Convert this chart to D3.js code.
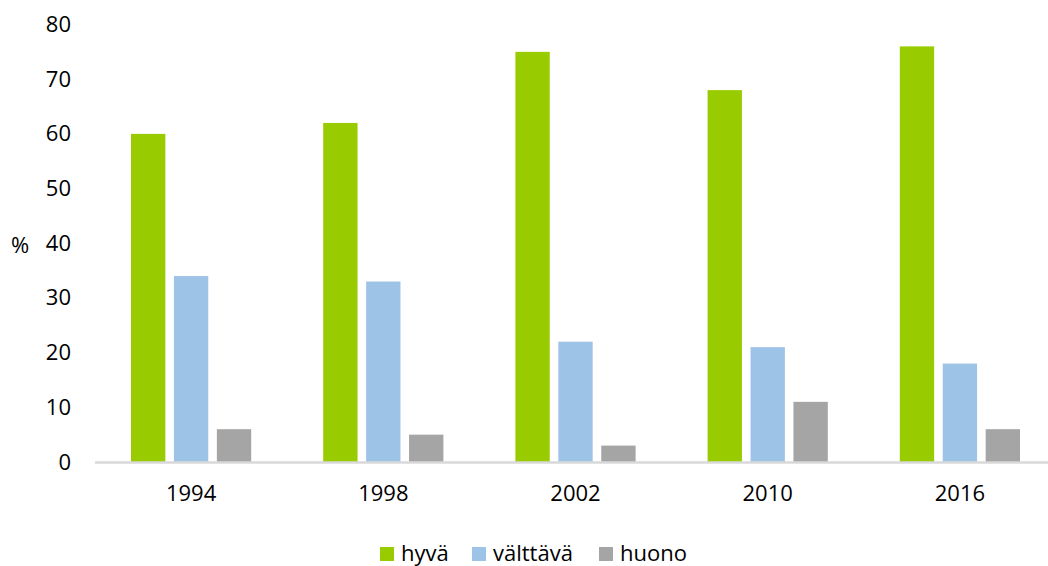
<!DOCTYPE html>
<html>
<head>
<meta charset="utf-8">
<script src="https://cdn.jsdelivr.net/npm/d3@7"></script>
<style>
  body { margin: 0; background: #fff; }
  svg { display: block; font-family: 'Open Sans', sans-serif; }
</style>
</head>
<body>
<div id="container"></div>
<script>
const years = ['1994', '1998', '2002', '2010', '2016'];
const seriesNames = ['hyvä', 'välttävä', 'huono'];
const hyva = [60, 62, 75, 68, 76];
const valttava = [34, 33, 22, 21, 18];
const huono = [6, 5, 3, 11, 6];
const yTicks = [0, 10, 20, 30, 40, 50, 60, 70, 80];
const colors = ['#99cc00', '#9dc3e6', '#a5a5a5'];

const width = 1048;
const height = 566;

const svg = d3.select('#container')
  .append('svg')
  .attr('width', width)
  .attr('height', height);

const xScale = d3.scaleBand()
  .domain(years)
  .range([95, 1056]);

const xInner = d3.scaleBand()
  .domain(seriesNames)
  .range([36, xScale.bandwidth() - 36])
  .paddingInner(0.2);

const yScale = d3.scaleLinear()
  .domain([0, 80])
  .range([462, 24.5]);

const series = [hyva, valttava, huono];

//bars
series.forEach((vals, i) => {
  svg.append('g')
    .selectAll('rect')
    .data(vals)
    .enter()
    .append('rect')
    .attr('x', (d, j) => xScale(years[j]) + xInner(seriesNames[i]))
    .attr('y', d => yScale(d))
    .attr('width', xInner.bandwidth())
    .attr('height', d => yScale(0) - yScale(d))
    .style('fill', colors[i]);
});

//axis line
svg.append('line')
  .attr('x1', 95)
  .attr('x2', 1048)
  .attr('y1', yScale(0) + 0.5)
  .attr('y2', yScale(0) + 0.5)
  .style('stroke', '#d9d9d9')
  .style('stroke-width', 2.5);

//y axis
const yAxis = svg.append('g')
  .attr('transform', 'translate(71, 0)')
  .call(d3.axisLeft(yScale).tickValues(yTicks).tickSize(0).tickPadding(0));
yAxis.select('.domain').remove();
yAxis.selectAll('text')
  .style('font-family', "'Open Sans', sans-serif")
  .style('font-size', '22px')
  .style('fill', '#000');

//x axis
const xAxis = svg.append('g')
  .attr('transform', `translate(0, ${yScale(0)})`)
  .call(d3.axisBottom(xScale).tickSize(0).tickPadding(23));
xAxis.select('.domain').remove();
xAxis.selectAll('text')
  .style('font-family', "'Open Sans', sans-serif")
  .style('font-size', '22px')
  .style('fill', '#000');

//% label
svg.append('text')
  .attr('x', 11)
  .attr('y', 253)
  .style('font-size', '22px')
  .text('%');

//legend
const legendX = [380, 472, 599];
const legend = svg.append('g')
  .selectAll('g')
  .data(seriesNames)
  .enter()
  .append('g')
  .attr('transform', (d, i) => `translate(${legendX[i]}, 547)`);

legend.append('rect')
  .attr('width', 14)
  .attr('height', 14)
  .style('fill', (d, i) => colors[i]);

legend.append('text')
  .attr('x', 21)
  .attr('y', 14)
  .style('font-size', '22px')
  .text(d => d);
</script>
</body>
</html>
